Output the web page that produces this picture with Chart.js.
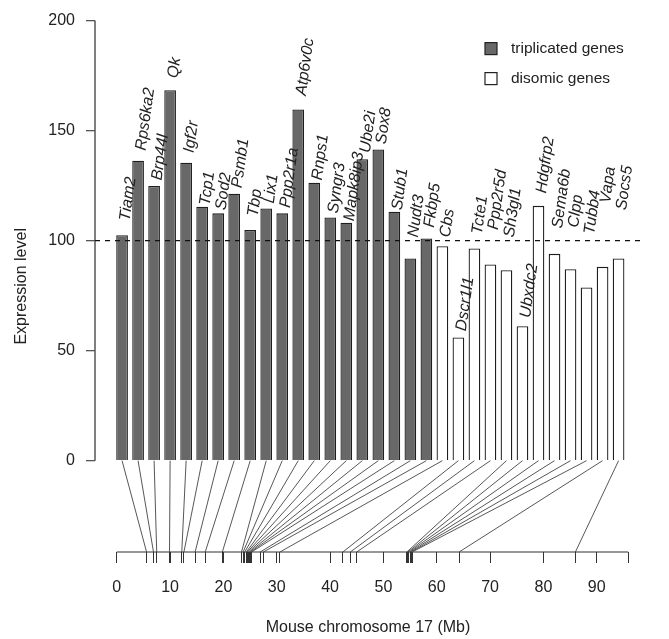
<!DOCTYPE html>
<html>
<head>
<meta charset="utf-8">
<script src="https://cdn.jsdelivr.net/npm/chart.js@4.4.1/dist/chart.umd.min.js"></script>
<style>
  html, body { margin: 0; padding: 0; background: #ffffff; }
  #wrap { width: 669px; height: 639px; }
</style>
</head>
<body>
<div id="wrap"><canvas id="chart" width="669" height="639"></canvas></div>
<script>
(function () {
  'use strict';

  // genes on the triplicated segment, then the disomic ones, in chromosome order
  const triplicatedGenes = ['Tiam2', 'Rps6ka2', 'Brp44l', 'Qk', 'Igf2r', 'Tcp1', 'Sod2', 'Psmb1', 'Tbp', 'Lix1',
    'Ppp2r1a', 'Atp6v0c', 'Rnps1', 'Syngr3', 'Mapk8ip3', 'Ube2i', 'Sox8', 'Stub1', 'Nudt3', 'Fkbp5'];
  const triplicatedLevels = [102.5, 136.3, 124.8, 168.4, 135.4, 115.4, 112.4, 121.3, 104.8, 114.6,
    112.4, 159.6, 126.3, 110.5, 108.1, 137.0, 141.4, 113.1, 91.9, 101.0];

  const disomicGenes = ['Cbs', 'Dscr1l1', 'Tcte1', 'Ppp2r5d', 'Sh3gl1', 'Ubxdc2', 'Hdgfrp2', 'Sema6b', 'Clpp',
    'Tubb4', 'Vapa', 'Socs5'];
  const disomicLevels = [97.5, 56.0, 96.4, 89.2, 86.6, 61.1, 115.8, 94.0, 87.0, 78.7, 88.1, 91.9];

  // position of each gene on mouse chromosome 17 (Mb), same order as above
  const chromosomeMb = [5.6, 6.9, 7.5, 9.9, 12.2, 12.6, 14.7, 16.6, 19.8, 23.4,
    23.7, 24.0, 24.3, 24.5, 24.7, 24.9, 25.1, 25.3, 26.9, 27.5,
    30.6, 42.4, 43.8, 45.0, 54.4, 54.6, 54.8, 55.0, 55.2, 55.4, 64.2, 86.0];

  // expression level where each gene name starts
  const labelLevels = [109, 141, 127.5, 174, 140, 116, 114, 124, 111, 117,
    115, 166, 127.5, 112.5, 109, 140, 144, 114, 101.6, 106,
    101.6, 59, 103, 105, 101.6, 65, 121.6, 105.7, 106, 103, 117, 114];

  const levelTicks = [0, 50, 100, 150, 200];
  const chromosomeTicks = [0, 10, 20, 30, 40, 50, 60, 70, 80, 90];
  const chromosomeLength = 95.9;
  const referenceLevel = 100;

  const allGenes = triplicatedGenes.concat(disomicGenes);
  const FONT = '"Liberation Sans", Arial, Helvetica, sans-serif';
  const TEXT = '#222222';
  const AXIS = '#555555';
  const DARK_FILL = '#686868';

  function barPoints(levels, start) {
    return levels.map(function (v, i) {
      return { x: start + i + 1, y: v };
    });
  }

  const overlay = {
    id: 'overlay',
    afterDatasetsDraw: function (chart) {
      const ctx = chart.ctx;
      const area = chart.chartArea;
      const x = chart.scales.x;
      const y = chart.scales.y;
      const chr = chart.scales.chr;
      const base = y.getPixelForValue(0);

      ctx.save();
      // left axis line, 0..200
      ctx.strokeStyle = AXIS;
      ctx.lineWidth = 1.5;
      ctx.beginPath();
      ctx.moveTo(area.left, y.getPixelForValue(levelTicks[0]));
      ctx.lineTo(area.left, y.getPixelForValue(levelTicks[levelTicks.length - 1]));
      ctx.stroke();

      // dashed reference line
      ctx.strokeStyle = '#111111';
      ctx.lineWidth = 1.2;
      ctx.setLineDash([5, 5]);
      ctx.beginPath();
      ctx.moveTo(area.left, y.getPixelForValue(referenceLevel));
      ctx.lineTo(area.right, y.getPixelForValue(referenceLevel));
      ctx.stroke();
      ctx.setLineDash([]);

      // chromosome line
      ctx.strokeStyle = '#333333';
      ctx.lineWidth = 1.2;
      ctx.beginPath();
      ctx.moveTo(chr.getPixelForValue(0), area.bottom);
      ctx.lineTo(chr.getPixelForValue(chromosomeLength), area.bottom);
      ctx.stroke();

      // connectors from bar foot to gene position
      ctx.strokeStyle = '#444444';
      ctx.lineWidth = 0.9;
      chromosomeMb.forEach(function (mb, i) {
        ctx.beginPath();
        ctx.moveTo(x.getPixelForValue(i + 1), base);
        ctx.lineTo(chr.getPixelForValue(mb), area.bottom);
        ctx.stroke();
      });

      // gene names
      ctx.fillStyle = TEXT;
      ctx.font = 'italic 16px ' + FONT;
      ctx.textAlign = 'left';
      ctx.textBaseline = 'middle';
      allGenes.forEach(function (name, i) {
        ctx.save();
        ctx.translate(x.getPixelForValue(i + 1) + 3, y.getPixelForValue(labelLevels[i]));
        ctx.rotate(-82 * Math.PI / 180);
        ctx.fillText(name, 0, 0);
        ctx.restore();
      });

      // legend
      const lx = area.right - 156;
      const ly = area.top + 28;
      const items = [
        { text: 'triplicated genes', fill: DARK_FILL },
        { text: 'disomic genes', fill: '#ffffff' }
      ];
      ctx.font = '15.5px ' + FONT;
      items.forEach(function (item, i) {
        const cy = ly + i * 30;
        ctx.fillStyle = item.fill;
        ctx.fillRect(lx, cy - 6, 12, 12);
        ctx.strokeStyle = '#222222';
        ctx.lineWidth = 1.2;
        ctx.strokeRect(lx, cy - 6, 12, 12);
        ctx.fillStyle = TEXT;
        ctx.fillText(item.text, lx + 26, cy);
      });
      ctx.restore();
    }
  };

  new Chart(document.getElementById('chart').getContext('2d'), {
    type: 'bar',
    data: {
      datasets: [
        {
          label: 'triplicated genes',
          data: barPoints(triplicatedLevels, 0),
          backgroundColor: DARK_FILL,
          borderColor: '#1e1e1e',
          borderWidth: 1.3
        },
        {
          label: 'disomic genes',
          data: barPoints(disomicLevels, triplicatedGenes.length),
          backgroundColor: '#ffffff',
          borderColor: '#1e1e1e',
          borderWidth: 1.3
        }
      ]
    },
    options: {
      responsive: false,
      animation: false,
      layout: { padding: { top: 20, right: 28, bottom: 0, left: 0 } },
      datasets: { bar: { grouped: false, barPercentage: 0.73, categoryPercentage: 1 } },
      plugins: { legend: { display: false }, tooltip: { enabled: false } },
      scales: {
        x: { type: 'linear', display: false, offset: false, min: -0.69, max: 33.4 },
        chr: {
          type: 'linear',
          position: 'bottom',
          offset: false,
          min: -4.07,
          max: 98.3,
          afterBuildTicks: function (scale) {
            scale.ticks = chromosomeTicks.map(function (v) { return { value: v }; })
              .concat(chromosomeMb.map(function (v) { return { value: v }; }))
              .concat([{ value: chromosomeLength }]);
          },
          afterFit: function (scale) { scale.height = 87; },
          border: { display: false },
          grid: { offset: false, drawOnChartArea: false, drawTicks: true, tickLength: 11, color: '#333333', lineWidth: 1 },
          ticks: {
            autoSkip: false,
            maxRotation: 0,
            minRotation: 0,
            padding: 15,
            color: TEXT,
            font: { family: FONT, size: 16 },
            callback: function (value, index) {
              return index < chromosomeTicks.length ? String(value) : '';
            }
          },
          title: {
            display: true,
            text: 'Mouse chromosome 17 (Mb)',
            color: TEXT,
            font: { family: FONT, size: 16 },
            padding: { top: 0, bottom: 2 }
          }
        },
        y: {
          type: 'linear',
          position: 'left',
          min: -41.5,
          max: 200,
          afterBuildTicks: function (scale) {
            scale.ticks = levelTicks.map(function (v) { return { value: v }; });
          },
          afterFit: function (scale) { scale.width = 95; },
          border: { display: false },
          grid: { drawOnChartArea: false, drawTicks: true, tickLength: 9, color: AXIS, lineWidth: 1.3 },
          ticks: { padding: 11, color: TEXT, font: { family: FONT, size: 16 } },
          title: {
            display: true,
            text: 'Expression level',
            color: TEXT,
            font: { family: FONT, size: 16 },
            padding: { top: 12, bottom: 0 }
          }
        }
      }
    },
    plugins: [overlay]
  });
})();
</script>
</body>
</html>
